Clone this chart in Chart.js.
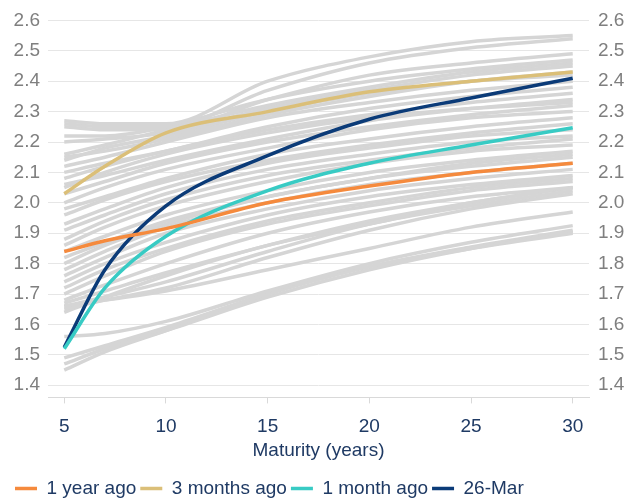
<!DOCTYPE html>
<html>
<head>
<meta charset="utf-8">
<script src="https://cdn.jsdelivr.net/npm/chart.js@4/dist/chart.umd.min.js"></script>
<style>
  html, body { margin: 0; padding: 0; background: #fff; }
  #wrap { width: 636px; height: 501px; }
</style>
</head>
<body>
<div id="wrap"><canvas id="curveChart" width="636" height="501"></canvas></div>
<script>
const maturities = [5, 7, 10, 15, 20, 25, 30];
const xTicks = [5, 10, 15, 20, 25, 30];
const yTicks = [1.4, 1.5, 1.6, 1.7, 1.8, 1.9, 2.0, 2.1, 2.2, 2.3, 2.4, 2.5, 2.6];

// Highlighted curves
const seriesNames = ['1 year ago', '3 months ago', '1 month ago', '26-Mar'];
const oneYearAgo   = [1.84, 1.875, 1.915, 2.00, 2.055, 2.10, 2.13];
const threeMonths  = [2.03, 2.12, 2.23, 2.30, 2.365, 2.40, 2.43];
const oneMonth     = [1.52, 1.72, 1.89, 2.04, 2.13, 2.19, 2.247];
const latest       = [1.525, 1.78, 1.99, 2.155, 2.275, 2.345, 2.41];
const seriesColors = ['#f58a3d', '#dbbf78', '#38cbc4', '#0b3b78'];

// Historical curves (grey)
const history = [
  [2.27, 2.26, 2.26, 2.40, 2.48, 2.53, 2.55],
  [2.26, 2.25, 2.25, 2.37, 2.46, 2.51, 2.54],
  [2.25, 2.24, 2.24, 2.34, 2.42, 2.46, 2.49],
  [2.22, 2.22, 2.25, 2.34, 2.40, 2.44, 2.47],
  [2.20, 2.21, 2.23, 2.31, 2.37, 2.42, 2.45],
  [2.16, 2.19, 2.24, 2.32, 2.38, 2.43, 2.46],
  [2.15, 2.17, 2.21, 2.29, 2.35, 2.40, 2.43],
  [2.14, 2.18, 2.22, 2.30, 2.36, 2.40, 2.42],
  [2.12, 2.15, 2.20, 2.28, 2.33, 2.37, 2.40],
  [2.10, 2.13, 2.17, 2.25, 2.31, 2.35, 2.38],
  [2.08, 2.12, 2.17, 2.24, 2.29, 2.33, 2.36],
  [2.06, 2.09, 2.14, 2.21, 2.27, 2.31, 2.34],
  [2.05, 2.10, 2.16, 2.23, 2.28, 2.31, 2.33],
  [2.03, 2.07, 2.13, 2.20, 2.25, 2.29, 2.32],
  [2.00, 2.05, 2.11, 2.18, 2.24, 2.28, 2.30],
  [1.98, 2.02, 2.08, 2.16, 2.21, 2.25, 2.28],
  [1.96, 2.01, 2.07, 2.14, 2.19, 2.23, 2.26],
  [1.93, 1.98, 2.05, 2.13, 2.18, 2.22, 2.24],
  [1.91, 1.96, 2.03, 2.11, 2.16, 2.20, 2.22],
  [1.88, 1.94, 2.01, 2.09, 2.14, 2.18, 2.21],
  [1.86, 1.92, 1.99, 2.07, 2.13, 2.17, 2.19],
  [1.84, 1.89, 1.96, 2.04, 2.10, 2.14, 2.17],
  [1.82, 1.87, 1.94, 2.02, 2.08, 2.12, 2.15],
  [1.80, 1.86, 1.93, 2.02, 2.08, 2.13, 2.16],
  [1.78, 1.84, 1.92, 2.00, 2.06, 2.10, 2.13],
  [1.76, 1.82, 1.90, 1.98, 2.04, 2.08, 2.11],
  [1.74, 1.80, 1.87, 1.96, 2.02, 2.06, 2.09],
  [1.72, 1.78, 1.85, 1.94, 2.00, 2.05, 2.08],
  [1.70, 1.76, 1.84, 1.93, 1.99, 2.04, 2.07],
  [1.68, 1.73, 1.80, 1.90, 1.97, 2.02, 2.05],
  [1.66, 1.69, 1.74, 1.84, 1.93, 1.99, 2.04],
  [1.65, 1.68, 1.72, 1.82, 1.91, 1.98, 2.03],
  [1.67, 1.71, 1.77, 1.86, 1.94, 2.00, 2.05],
  [1.64, 1.69, 1.76, 1.86, 1.93, 2.00, 2.05],
  [1.66, 1.68, 1.71, 1.78, 1.85, 1.92, 1.97],
  [1.56, 1.57, 1.61, 1.71, 1.80, 1.87, 1.925],
  [1.49, 1.53, 1.59, 1.70, 1.79, 1.85, 1.90],
  [1.47, 1.52, 1.58, 1.69, 1.78, 1.85, 1.905],
  [1.45, 1.51, 1.58, 1.70, 1.79, 1.855, 1.91]
];

const navy = '#1f3a64';
const grey = '#7f7f7f';
const fontSize = 19;

Chart.defaults.font.family = "'Liberation Sans', Arial, sans-serif";

function toPoints(values) {
  return values.map((v, i) => ({ x: maturities[i], y: v }));
}

let datasets = [];
[oneYearAgo, threeMonths, oneMonth, latest].forEach((vals, i) => {
  datasets.push({
    label: seriesNames[i],
    data: toPoints(vals),
    borderColor: seriesColors[i],
    backgroundColor: seriesColors[i],
    borderWidth: 3.5,
    pointRadius: 0,
    cubicInterpolationMode: 'monotone',
    yAxisID: 'y'
  });
});
history.forEach((vals, i) => {
  datasets.push({
    label: 'hist' + i,
    data: toPoints(vals),
    borderColor: '#d5d5d5',
    borderWidth: 3.5,
    pointRadius: 0,
    cubicInterpolationMode: 'monotone',
    yAxisID: 'y'
  });
});

function setYTicks(scale) {
  scale.ticks = yTicks.map(v => ({ value: v }));
}

let ctx = document.getElementById('curveChart').getContext('2d');
let chart = new Chart(ctx, {
  type: 'line',
  data: { datasets: datasets },
  options: {
    responsive: false,
    animation: false,
    layout: { padding: { left: 11, right: 10, top: 1.5, bottom: -7 } },
    plugins: {
      tooltip: { enabled: false },
      legend: {
        position: 'bottom',
        align: 'start',
        labels: {
          filter: item => item.datasetIndex < 4,
          usePointStyle: true,
          pointStyle: 'line',
          pointStyleWidth: 22,
          padding: 4,
          color: navy,
          font: { size: fontSize }
        }
      }
    },
    scales: {
      x: {
        type: 'linear',
        min: 4.2,
        max: 30.8,
        afterBuildTicks: scale => { scale.ticks = xTicks.map(v => ({ value: v })); },
        grid: { drawOnChartArea: false, drawTicks: true, tickLength: 6, color: '#d9d9d9' },
        border: { display: true, color: '#d9d9d9' },
        ticks: { color: navy, font: { size: fontSize }, padding: 12 },
        title: { display: true, text: 'Maturity (years)', color: navy, font: { size: fontSize }, padding: { top: -11, bottom: 13 } }
      },
      y: {
        position: 'left',
        min: 1.36,
        max: 2.6,
        afterBuildTicks: setYTicks,
        afterFit: scale => { scale.width = 37; },
        grid: { color: '#e6e6e6', drawTicks: false },
        border: { display: false },
        ticks: { color: grey, font: { size: fontSize }, padding: 8, callback: v => v.toFixed(1) }
      },
      y2: {
        position: 'right',
        min: 1.36,
        max: 2.6,
        afterBuildTicks: setYTicks,
        afterFit: scale => { scale.width = 37; },
        grid: { drawOnChartArea: false, drawTicks: false },
        border: { display: false },
        ticks: { color: grey, font: { size: fontSize }, padding: 9, callback: v => v.toFixed(1) }
      }
    }
  }
});
</script>
</body>
</html>
